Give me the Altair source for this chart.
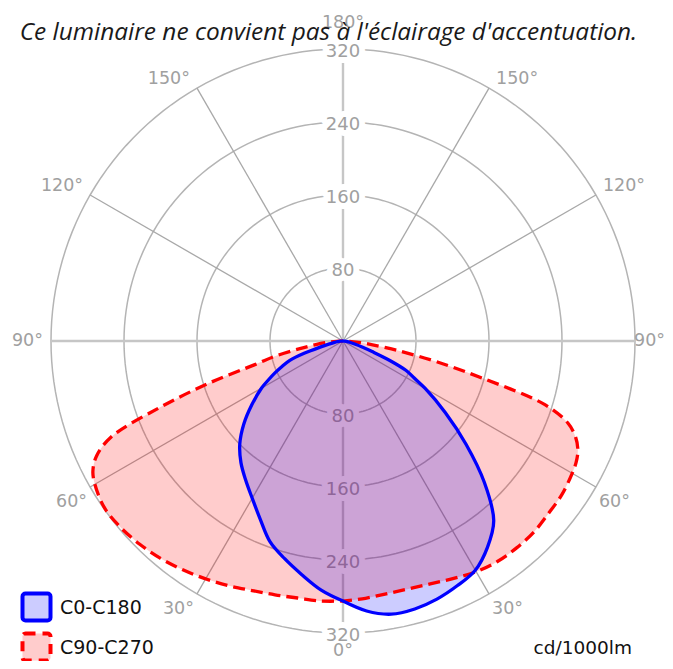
import altair as alt
import pandas as pd
import numpy as np

TITLE = "Ce luminaire ne convient pas à l'éclairage d'accentuation."
UNIT = "cd/1000lm"
SERIES = ["C0-C180", "C90-C270"]

# gamma angles (deg from nadir) and luminous intensities (cd/1000lm)
gamma = [0, 5, 10, 15, 20, 25, 30, 35, 40, 45, 50, 55, 60,
         62.5, 65, 67.5, 70, 72.5, 75, 77.5, 80, 82.5, 85, 87.5, 90]
c0 = [285, 297, 304, 304, 301, 296, 290, 276, 257, 219, 176, 137, 104,
      88, 76, 55, 34, 22, 14, 9, 6, 4, 2, 1, 0]
c180 = [285, 274, 260, 247, 234, 215, 199, 186, 174, 160, 142, 122, 103,
        92, 82, 72, 62, 44, 26, 16, 10, 6, 3, 1, 0]
c90 = [285, 283, 281, 281, 283, 287, 292, 295, 296, 296, 294, 293, 290,
       288, 284, 276, 262, 232, 160, 105, 62, 34, 17, 7, 0]
c270 = [285, 286, 286, 288, 291, 296, 301, 306, 311, 315, 318, 319, 314,
        309, 298, 275, 215, 155, 100, 75, 48, 30, 17, 7, 0]

rings = [80, 160, 240, 320]
spoke_angles = list(range(0, 360, 30))
angle_ticks = [0, 30, 60, 90, 120, 150, 180]

W, H = 657, 653
CX, CY = 335, 333
K = 292 / 320
RMAX = 320
xs = alt.Scale(domain=[-CX / K, (W - CX) / K], nice=False, zero=False)
ys = alt.Scale(domain=[-(H - CY) / K, CY / K], nice=False, zero=False)


def XY(xf="x", yf="y"):
    return dict(x=alt.X(f"{xf}:Q", scale=xs, axis=None),
                y=alt.Y(f"{yf}:Q", scale=ys, axis=None))


# ---- curves
rows = []
for name, left, right in [(SERIES[0], c180, c0), (SERIES[1], c270, c90)]:
    n = 0
    for g, v in reversed(list(zip(gamma, left))):
        rows.append(dict(series=name, gamma=g, cd=v, side=-1, order=n))
        n += 1
    for g, v in zip(gamma, right):
        rows.append(dict(series=name, gamma=g, cd=v, side=1, order=n))
        n += 1
curves = pd.DataFrame(rows)

curve_base = alt.Chart(curves).transform_calculate(
    x="datum.side * datum.cd * sin(datum.gamma * PI / 180)",
    y="-datum.cd * cos(datum.gamma * PI / 180)",
)


def shape(name, **mk):
    return (curve_base.transform_filter(alt.datum.series == name)
            .mark_line(interpolate="catmull-rom", **mk)
            .encode(**XY(), order="order:Q"))


red_fill = shape(SERIES[1], fill="#ff0000", fillOpacity=0.2, strokeOpacity=0)
blue_fill = shape(SERIES[0], fill="#0000ff", fillOpacity=0.2, strokeOpacity=0)
red_line = shape(SERIES[1], color="#ff0000", strokeWidth=3.3, strokeDash=[12, 6])
blue_line = shape(SERIES[0], color="#0000ff", strokeWidth=3.3)

# ---- grid
circ = pd.DataFrame([dict(ring=r, a=a) for r in rings for a in np.arange(0, 361, 2)])
ring_chart = (alt.Chart(circ)
              .transform_calculate(x="datum.ring * sin(datum.a * PI / 180)",
                                   y="datum.ring * cos(datum.a * PI / 180)")
              .mark_line(color="#b4b4b4", strokeWidth=1.5)
              .encode(**XY(), detail="ring:N", order="a:Q"))

spokes = pd.DataFrame({"a": spoke_angles})
spoke_base = alt.Chart(spokes).transform_calculate(
    x0="0", y0="0",
    x2=f"{RMAX} * sin(datum.a * PI / 180)",
    y2=f"-{RMAX} * cos(datum.a * PI / 180)",
)
spoke_enc = dict(x=alt.X("x0:Q", scale=xs, axis=None),
                 y=alt.Y("y0:Q", scale=ys, axis=None),
                 x2="x2:Q", y2="y2:Q")
minor_spokes = (spoke_base.transform_filter("datum.a % 90 != 0")
                .mark_rule(color="#a8a8a8", strokeWidth=1.3).encode(**spoke_enc))
major_spokes = (spoke_base.transform_filter("datum.a % 90 == 0")
                .mark_rule(color="#c6c6c6", strokeWidth=2.4).encode(**spoke_enc))

# ---- ring labels
rl = pd.DataFrame([dict(ring=r, s=s, label=str(r)) for r in rings for s in (1, -1)])
rl_base = alt.Chart(rl).transform_calculate(x="0", y="datum.s * datum.ring")
halo = rl_base.mark_text(font="DejaVu Sans", fontSize=18, fill="white", stroke="white",
                         strokeWidth=12, strokeJoin="round", dy=3).encode(**XY(), text="label:N")
rl_text = rl_base.mark_text(font="DejaVu Sans", fontSize=18, dy=3,
                            color="#a0a0a0").encode(**XY(), text="label:N")

# ---- angle labels (anchored at the spoke ends)
al = []
for a in angle_ticks:
    for s in ((1,) if a in (0, 180) else (-1, 1)):
        al.append(dict(a=a, s=s, label=f"{a}°"))
al = pd.DataFrame(al)
al_base = alt.Chart(al).transform_calculate(
    x=f"datum.s * {RMAX} * sin(datum.a * PI / 180)",
    y=f"-{RMAX} * cos(datum.a * PI / 180)",
)
lab_style = dict(font="DejaVu Sans", fontSize=17.5, color="#a0a0a0")


def lab(expr, **mk):
    return (al_base.transform_filter(expr)
            .mark_text(**lab_style, **mk).encode(**XY(), text="label:N"))


al_layers = [
    lab("datum.s == 1 && datum.a > 90 && datum.a < 180", align="left", baseline="bottom", dx=7),
    lab("datum.s == 1 && datum.a > 0 && datum.a < 90", align="left", baseline="top", dx=3, dy=6),
    lab("datum.s == 1 && datum.a == 90", align="left", baseline="middle", dx=-1),
    lab("datum.s == -1 && datum.a > 90", align="right", baseline="bottom", dx=-7),
    lab("datum.s == -1 && datum.a < 90", align="right", baseline="top", dx=-3, dy=6),
    lab("datum.s == -1 && datum.a == 90", align="right", baseline="middle", dx=-8),
    lab("datum.a == 0", align="center", baseline="top", dy=9),
    lab("datum.a == 180", align="center", baseline="bottom", dy=-17),
]

# ---- legend & texts
leg = pd.DataFrame({"series": SERIES})
leg_blue = (alt.Chart(leg).transform_filter(alt.datum.series == SERIES[0])
            .mark_rect(fill="#ccccff", stroke="#0000ff", strokeWidth=4, cornerRadius=3)
            .encode(x=alt.value(14.5), x2=alt.value(42.5), y=alt.value(585.5), y2=alt.value(612.5)))
leg_red = (alt.Chart(leg).transform_filter(alt.datum.series == SERIES[1])
           .mark_rect(fill="#ffcccc", stroke="#ff0000", strokeWidth=4, cornerRadius=3,
                      strokeDash=[10, 7])
           .encode(x=alt.value(14.5), x2=alt.value(42.5), y=alt.value(625.5), y2=alt.value(652.5)))
leg_t1 = (alt.Chart(leg).transform_filter(alt.datum.series == SERIES[0])
          .mark_text(font="DejaVu Sans", fontSize=19, color="#111111", align="left")
          .encode(x=alt.value(52), y=alt.value(600), text="series:N"))
leg_t2 = (alt.Chart(leg).transform_filter(alt.datum.series == SERIES[1])
          .mark_text(font="DejaVu Sans", fontSize=19, color="#111111", align="left")
          .encode(x=alt.value(52), y=alt.value(639.5), text="series:N"))

txt = pd.DataFrame({"t": [TITLE], "u": [UNIT]})
unit_t = (alt.Chart(txt).mark_text(font="DejaVu Sans", fontSize=18.5, color="#111111", align="right")
          .encode(x=alt.value(624), y=alt.value(640), text="u:N"))
title_t = (alt.Chart(txt).mark_text(font="Open Sans", fontStyle="italic", fontSize=24.4,
                                    color="#1a1a1a", align="center", baseline="alphabetic")
           .encode(x=alt.value(320.5), y=alt.value(32), text="t:N"))

chart = alt.layer(
    ring_chart, minor_spokes, major_spokes, halo, rl_text,
    red_fill, blue_fill, red_line, blue_line,
    *al_layers, leg_blue, leg_red, leg_t1, leg_t2, unit_t, title_t,
).properties(
    width=W, height=H, padding=0, autosize=alt.AutoSizeParams(type="none"),
).configure_view(strokeWidth=0)

chart.save("out.html", embed_options={"renderer": "svg", "actions": False})
